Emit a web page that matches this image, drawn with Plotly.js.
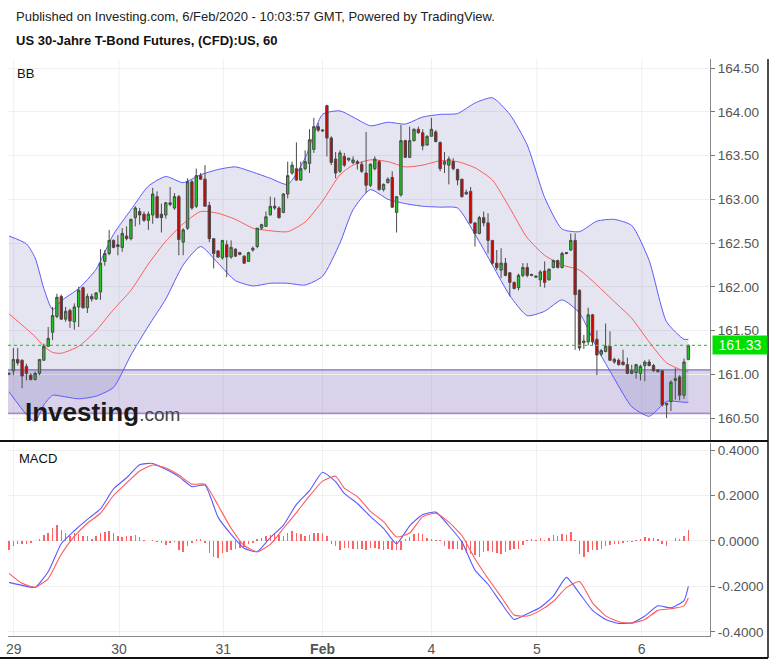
<!DOCTYPE html>
<html>
<head>
<meta charset="utf-8">
<script src="https://cdn.plot.ly/plotly-3.0.1.min.js"></script>
<style>html,body{margin:0;padding:0;background:#fff;}#chart{width:777px;height:664px;}</style>
</head>
<body>
<div id="chart"></div>
<script>
// ---- Candles (hourly bars, index = bar number) ----
const candleOpen = [161.00,161.04,161.17,161.16,161.09,160.99,160.94,161.01,161.16,161.32,
161.48,161.66,161.89,161.63,161.73,161.60,161.77,161.99,161.76,161.89,
161.86,161.94,162.29,162.38,162.53,162.48,162.45,162.58,162.55,162.79,
162.86,162.83,162.76,162.82,163.03,162.83,162.82,162.94,162.90,163.03,
162.51,162.67,163.20,162.92,163.27,163.23,162.93,162.55,162.41,162.33,
162.48,162.34,162.43,162.39,162.35,162.29,162.42,162.46,162.67,162.69,
162.82,162.92,162.90,162.85,163.06,163.30,163.35,163.22,163.35,163.41,
163.57,163.83,163.78,164.07,163.70,163.46,163.32,163.49,163.45,163.42,
163.43,163.40,163.30,163.16,163.35,163.43,163.11,163.19,163.25,162.85,
163.05,163.67,163.48,163.67,163.80,163.76,163.62,163.72,163.77,163.65,
163.40,163.39,163.43,163.34,163.23,163.06,163.09,162.73,162.61,162.79,
162.73,162.53,162.27,162.19,162.27,162.16,162.05,161.99,162.13,162.22,
162.13,162.11,162.08,162.18,162.08,162.22,162.30,162.22,162.38,162.42,
162.53,161.96,161.36,161.37,161.68,161.40,161.23,161.26,161.32,161.14,
161.16,161.14,161.11,161.01,161.02,161.01,161.10,161.14,161.10,161.03,
161.04,160.65,160.69,160.93,160.97,160.76,161.17];
const candleHigh = [161.02,161.30,161.30,161.17,161.12,161.01,161.03,161.17,161.35,161.54,
161.77,161.92,161.91,161.77,161.75,161.81,162.00,162.00,161.92,161.92,
161.94,162.43,162.42,162.65,162.54,162.59,162.67,162.69,162.78,162.92,
162.90,162.86,162.86,163.13,163.09,162.95,162.97,163.14,163.07,163.05,
162.67,163.24,163.22,163.35,163.30,163.39,162.97,162.55,162.42,162.53,
162.53,162.53,162.44,162.40,162.36,162.40,162.46,162.67,162.72,162.86,
163.03,163.02,162.92,163.07,163.43,163.43,163.65,163.43,163.56,163.80,
163.93,163.87,163.80,164.08,163.72,163.54,163.56,163.53,163.47,163.49,
163.45,163.43,163.77,163.41,163.49,163.45,163.18,163.25,163.32,163.03,
163.85,163.68,163.83,163.81,163.83,163.80,163.73,163.93,163.79,163.66,
163.54,163.49,163.47,163.35,163.23,163.11,163.14,162.74,162.81,162.86,
162.84,162.53,162.42,162.44,162.33,162.17,162.06,162.15,162.27,162.27,
162.15,162.13,162.19,162.29,162.21,162.31,162.31,162.40,162.39,162.61,
162.61,161.97,161.45,161.76,161.69,161.50,161.29,161.58,161.49,161.19,
161.18,161.28,161.19,161.11,161.12,161.11,161.16,161.17,161.12,161.06,
161.05,160.67,160.93,161.07,160.99,161.18,161.34];
const candleLow = [160.99,160.99,161.10,160.84,160.93,160.93,160.93,160.99,161.16,161.32,
161.39,161.64,161.62,161.60,161.53,161.51,161.54,161.75,161.70,161.83,
161.85,161.85,162.24,162.36,162.44,162.36,162.40,162.53,162.53,162.69,
162.71,162.74,162.65,162.72,162.78,162.62,162.78,162.92,162.88,162.36,
162.36,162.65,162.88,162.90,163.22,162.92,162.51,162.21,162.33,162.31,
162.11,162.32,162.34,162.36,162.26,162.29,162.40,162.44,162.65,162.69,
162.82,162.88,162.78,162.84,163.01,163.28,163.21,163.21,163.33,163.30,
163.53,163.77,163.77,163.49,163.39,163.24,163.30,163.37,163.43,163.40,
163.34,163.30,163.07,163.14,163.33,163.10,163.09,163.18,162.90,162.62,
163.03,163.47,163.47,163.66,163.75,163.56,163.61,163.72,163.65,163.32,
163.30,163.17,163.33,163.16,163.02,163.05,162.72,162.46,162.60,162.69,
162.38,162.25,162.19,162.10,162.12,161.89,161.97,161.96,162.11,162.11,
162.12,162.10,162.00,161.99,162.07,162.21,162.21,162.21,162.37,162.41,
161.28,161.27,161.29,161.33,161.33,160.99,161.21,161.25,161.15,161.12,
161.10,161.10,161.00,161.00,160.95,160.93,160.92,161.09,161.03,161.02,
160.63,160.50,160.58,160.71,160.70,160.72,161.16];
const candleClose = [161.01,161.17,161.13,160.98,161.01,160.94,161.01,161.17,161.32,161.41,
161.67,161.88,161.63,161.72,161.61,161.77,161.96,161.76,161.89,161.86,
161.93,162.27,162.38,162.53,162.45,162.46,162.61,162.55,162.77,162.90,
162.82,162.76,162.83,163.06,162.79,162.79,162.96,162.96,163.03,162.54,
162.65,163.20,162.90,163.27,163.23,162.92,162.55,162.38,162.34,162.53,
162.34,162.45,162.35,162.37,162.27,162.39,162.44,162.67,162.71,162.80,
162.92,162.90,162.79,163.06,163.27,163.39,163.22,163.35,163.43,163.68,
163.83,163.79,163.79,163.70,163.42,163.30,163.53,163.39,163.47,163.45,
163.41,163.32,163.16,163.40,163.46,163.11,163.17,163.23,162.91,163.03,
163.67,163.48,163.67,163.80,163.76,163.61,163.72,163.80,163.66,163.35,
163.43,163.46,163.35,163.22,163.03,163.08,162.73,162.61,162.79,162.73,
162.53,162.27,162.22,162.27,162.13,162.05,161.98,162.13,162.22,162.13,
162.14,162.12,162.17,162.05,162.20,162.30,162.22,162.38,162.39,162.53,
161.91,161.30,161.38,161.68,161.37,161.22,161.27,161.32,161.16,161.17,
161.11,161.11,161.01,161.04,161.11,161.09,161.14,161.10,161.04,161.05,
160.65,160.67,160.91,160.95,160.76,161.14,161.33];

// ---- Bollinger bands (sampled bars) ----
const bbIdx = [0,4,6,8,10,12,16,20,24,28,32,36,40,44,48,52,56,60,64,68,72,76,
79,83,87,91,95,99,103,107,111,115,119,123,127,131,135,139,143,147,151,155,156];
const bbUpper = [162.58,162.49,162.33,161.98,161.74,161.84,161.98,162.20,162.60,162.88,163.15,163.26,163.19,163.28,163.34,163.37,163.31,163.24,163.17,163.47,163.97,164.01,
163.94,163.84,163.88,163.86,163.94,163.97,163.98,164.10,164.16,163.97,163.62,163.02,162.66,162.63,162.75,162.77,162.70,162.30,161.60,161.40,161.40];
const bbMiddle = [161.69,161.52,161.43,161.32,161.25,161.24,161.32,161.50,161.74,161.96,162.26,162.52,162.72,162.86,162.84,162.77,162.67,162.64,162.63,162.74,162.98,163.28,
163.39,163.45,163.43,163.37,163.39,163.44,163.43,163.36,163.22,162.90,162.56,162.36,162.25,162.19,162.02,161.83,161.64,161.37,161.13,161.04,161.03];
const bbLower = [160.80,160.54,160.46,160.65,160.76,160.75,160.72,160.75,160.85,161.22,161.55,161.86,162.25,162.46,162.27,162.07,162.01,162.04,162.04,162.02,162.12,162.50,
162.88,163.11,163.00,162.95,162.92,162.91,162.90,162.60,162.25,161.90,161.67,161.72,161.85,161.70,161.30,160.95,160.63,160.52,160.69,160.68,160.68];

// ---- MACD (sampled bars) ----
const macdIdx = [0,3,6,9,12,15,18,21,24,27,30,33,36,39,42,45,48,51,54,57,60,63,66,69,72,75,
77,80,83,86,89,92,95,98,101,104,107,110,113,116,119,122,125,128,131,134,137,140,143,146,149,152,155,156];
const macdLine = [-0.182,-0.195,-0.204,-0.135,-0.012,0.045,0.095,0.141,0.229,0.278,0.335,0.341,0.315,0.283,0.239,0.246,0.105,0.029,-0.032,-0.047,0.015,0.069,0.161,0.221,0.302,0.261,
0.209,0.165,0.107,0.056,-0.012,0.067,0.116,0.127,0.067,-0.004,-0.128,-0.190,-0.272,-0.345,-0.320,-0.292,-0.242,-0.160,-0.230,-0.305,-0.345,-0.362,-0.360,-0.330,-0.285,-0.294,-0.262,-0.200];
const signalLine = [-0.142,-0.186,-0.203,-0.165,-0.058,0.020,0.078,0.122,0.200,0.255,0.308,0.334,0.321,0.290,0.250,0.250,0.157,0.056,-0.020,-0.047,-0.015,0.055,0.125,0.198,0.263,0.285,
0.232,0.195,0.130,0.085,0.018,0.035,0.107,0.122,0.083,0.024,-0.078,-0.165,-0.245,-0.325,-0.330,-0.305,-0.265,-0.205,-0.178,-0.272,-0.329,-0.355,-0.361,-0.345,-0.305,-0.298,-0.285,-0.251];
const histVals = [-0.040,-0.020,-0.013,-0.013,-0.013,-0.010,0.002,0.010,0.026,0.037,
0.056,0.070,0.050,0.034,0.020,0.034,0.030,0.020,0.020,0.007,
0.020,0.034,0.040,0.045,0.034,0.022,0.016,0.020,0.022,0.026,
0.016,0.004,0.001,0.003,-0.005,-0.010,-0.018,-0.010,-0.005,-0.040,
-0.047,-0.022,-0.010,0.009,0.009,-0.010,-0.054,-0.072,-0.076,-0.054,
-0.047,-0.040,-0.037,-0.032,-0.025,-0.013,-0.010,0.010,0.012,0.020,
0.026,0.031,0.026,0.020,0.034,0.045,0.034,0.030,0.022,0.026,
0.037,0.037,0.034,0.020,-0.013,-0.022,-0.040,-0.032,-0.032,
-0.033,-0.033,-0.033,-0.040,-0.029,-0.029,-0.033,-0.038,-0.033,-0.040,
-0.040,-0.040,0.010,0.017,0.032,0.035,0.030,0.015,0.007,0.006,
0.003,-0.023,-0.033,-0.033,-0.033,-0.040,-0.052,-0.055,-0.062,-0.072,
-0.048,-0.043,-0.048,-0.052,-0.055,-0.048,-0.040,-0.033,-0.033,-0.019,
0.006,0.009,0.006,0.012,0.006,0.012,0.025,0.022,0.029,0.025,
0.039,0.005,-0.055,-0.072,-0.048,-0.040,-0.038,-0.033,-0.023,-0.019,
-0.014,-0.012,-0.009,-0.006,-0.005,0.006,0.010,0.017,0.014,0.014,
0.010,-0.012,-0.023,0.002,0.014,0.010,0.020,0.049];

// ---- Axis labels ----
const dayTickPos = [1.08,25.27,49.2,72.0,97.0,121.2,145.3];
const dayTickLabels = ['29','30','31','<b>Feb</b>','4','5','6'];
const priceTicks = [160.5,161.0,161.5,162.0,162.5,163.0,163.5,164.0,164.5];
const macdTicks = [-0.4,-0.2,0,0.2,0.4];
const macdTickLabels = ['-0.4000','-0.2000','0.0000','0.2000','0.4000'];
const lastPrice = 161.33;
const zoneLow = 160.553, zoneHigh = 161.05;

const FONT = 'Arial, "Liberation Sans", sans-serif';
const barIdx = candleOpen.map((_, i) => i);

const traces = [
  {type:'scatter', mode:'lines', x:bbIdx, y:bbUpper, xaxis:'x', yaxis:'y',
   line:{color:'#5a5aff', width:1, shape:'spline', smoothing:0.6}, hoverinfo:'skip'},
  {type:'scatter', mode:'lines', x:bbIdx, y:bbLower, xaxis:'x', yaxis:'y', fill:'tonexty',
   fillcolor:'rgba(110,110,175,0.18)',
   line:{color:'#5a5aff', width:1, shape:'spline', smoothing:0.6}, hoverinfo:'skip'},
  {type:'scatter', mode:'lines', x:bbIdx, y:bbMiddle, xaxis:'x', yaxis:'y',
   line:{color:'#ff5a5a', width:1, shape:'spline', smoothing:0.6}, hoverinfo:'skip'},
  {type:'candlestick', x:barIdx, open:candleOpen, high:candleHigh, low:candleLow, close:candleClose,
   xaxis:'x', yaxis:'y3', hoverinfo:'skip',
   increasing:{line:{color:'#4a4a4a', width:1}, fillcolor:'#1ec81e'},
   decreasing:{line:{color:'#4a4a4a', width:1}, fillcolor:'#d40000'}},
  {type:'bar', x:histVals.map((_, i) => i), y:histVals, xaxis:'x2', yaxis:'y2', width:0.35,
   marker:{color:'rgba(255,70,70,0.85)', line:{width:0}}, hoverinfo:'skip'},
  {type:'scatter', mode:'lines', x:macdIdx, y:macdLine, xaxis:'x2', yaxis:'y2',
   line:{color:'#5a5aff', width:1.1, shape:'spline', smoothing:0.5}, hoverinfo:'skip'},
  {type:'scatter', mode:'lines', x:macdIdx, y:signalLine, xaxis:'x2', yaxis:'y2',
   line:{color:'#ff5a5a', width:1.1, shape:'spline', smoothing:0.5}, hoverinfo:'skip'}
];

const xRange = [-0.23, 160.97];
const pRange = [160.249, 164.603];
const priceDomain = [0.3397, 1];
const axisFont = {family:FONT, size:13.5, color:'#555'};
const pyTop = (y) => (636 - y) / 577; // pixel -> paper (plot area 59..636)
const pxLeft = (x) => (x - 8) / 702;

// vertical day gridlines of the price pane, drawn beneath everything
const dayGridShapes = dayTickPos.map(p => ({type:'line', xref:'x', yref:'paper', x0:p, x1:p,
  y0:priceDomain[0], y1:priceDomain[1], layer:'below', line:{color:'#f0f0f0', width:1}}));

const layout = {
  width:777, height:664,
  margin:{l:8, r:67, t:59, b:28, pad:0},
  paper_bgcolor:'#fff', plot_bgcolor:'#fff',
  showlegend:false, boxgap:0.22, bargap:0,
  font:{family:FONT},
  xaxis:{domain:[0,1], anchor:'y', range:xRange, tickvals:dayTickPos, showticklabels:false,
         showgrid:false, zeroline:false, ticks:'', rangeslider:{visible:false}, fixedrange:true},
  yaxis:{domain:priceDomain, anchor:'x', side:'right', range:pRange, tickvals:priceTicks, tickformat:'.2f',
         ticks:'outside', ticklen:4, tickcolor:'#777', showline:true, linecolor:'#888', linewidth:1,
         showgrid:true, gridcolor:'#f0f0f0', zeroline:false, tickfont:axisFont, fixedrange:true},
  yaxis3:{overlaying:'y', anchor:'x', side:'right', range:pRange, visible:false, showgrid:false, fixedrange:true},
  xaxis2:{domain:[0,1], anchor:'y2', range:xRange, tickvals:dayTickPos, ticktext:dayTickLabels,
          showgrid:true, gridcolor:'#f0f0f0', zeroline:false, ticks:'', showline:true, linecolor:'#888',
          tickfont:{family:FONT, size:14, color:'#555'}, fixedrange:true},
  yaxis2:{domain:[0,0.3345], anchor:'x2', side:'right', range:[-0.4176,0.4308], tickvals:macdTicks, ticktext:macdTickLabels,
          ticks:'outside', ticklen:4, tickcolor:'#777', showline:true, linecolor:'#888',
          showgrid:true, gridcolor:'#f0f0f0', zeroline:false, tickfont:axisFont, fixedrange:true},
  shapes:dayGridShapes.concat([
    {type:'rect', xref:'paper', yref:'y', x0:0, x1:1, y0:zoneLow, y1:zoneHigh, layer:'below',
     fillcolor:'rgba(120,90,180,0.27)', line:{width:0}},
    {type:'line', xref:'paper', yref:'y', x0:0, x1:1, y0:zoneHigh, y1:zoneHigh, layer:'below', line:{color:'#a48cd0', width:1.6}},
    {type:'line', xref:'paper', yref:'y', x0:0, x1:1, y0:zoneLow, y1:zoneLow, layer:'below', line:{color:'#a48cd0', width:1.6}},
    {type:'line', xref:'paper', yref:'y', x0:0, x1:1, y0:lastPrice, y1:lastPrice, line:{color:'#22dd22', width:1.2, dash:'dot'}},
    {type:'line', xref:'paper', yref:'paper', x0:pxLeft(0), x1:pxLeft(768), y0:pyTop(441), y1:pyTop(441), line:{color:'#111', width:2}},
    {type:'line', xref:'paper', yref:'paper', x0:pxLeft(0), x1:pxLeft(768), y0:pyTop(658), y1:pyTop(658), line:{color:'#111', width:2}},
    {type:'line', xref:'paper', yref:'paper', x0:pxLeft(768), x1:pxLeft(768), y0:pyTop(658), y1:pyTop(59), line:{color:'#111', width:1.5}}
  ]),
  annotations:[
    {xref:'paper', yref:'paper', x:pxLeft(14), y:pyTop(17), xanchor:'left', yanchor:'middle', showarrow:false,
     text:'Published on Investing.com, 6/Feb/2020 - 10:03:57 GMT, Powered by TradingView.',
     font:{family:FONT, size:13, color:'#222'}},
    {xref:'paper', yref:'paper', x:pxLeft(14), y:pyTop(40), xanchor:'left', yanchor:'middle', showarrow:false,
     text:'<b>US 30-Jahre T-Bond Futures, (CFD):US, 60</b>',
     font:{family:FONT, size:13, color:'#111'}},
    {xref:'paper', yref:'paper', x:pxLeft(15), y:pyTop(73), xanchor:'left', yanchor:'middle', showarrow:false,
     text:'BB', font:{family:FONT, size:13, color:'#111'}},
    {xref:'paper', yref:'paper', x:pxLeft(17), y:pyTop(459), xanchor:'left', yanchor:'middle', showarrow:false,
     text:'MACD', font:{family:FONT, size:13, color:'#111'}},
    {xref:'paper', yref:'paper', x:pxLeft(23), y:pyTop(412), xanchor:'left', yanchor:'middle', showarrow:false,
     text:'<b>Investing</b><span style="font-size:19px;color:#444">.com</span>',
     font:{family:FONT, size:26, color:'#1a1a1a'}},
    {xref:'paper', yref:'y', x:1, y:lastPrice, xanchor:'left', yanchor:'middle', xshift:2, showarrow:false,
     text:'161.33', bgcolor:'#00e000', width:52, height:16, borderpad:1,
     font:{family:FONT, size:14, color:'#fff'}}
  ]
};

Plotly.newPlot('chart', traces, layout, {displayModeBar:false, staticPlot:true});
</script>
</body>
</html>
